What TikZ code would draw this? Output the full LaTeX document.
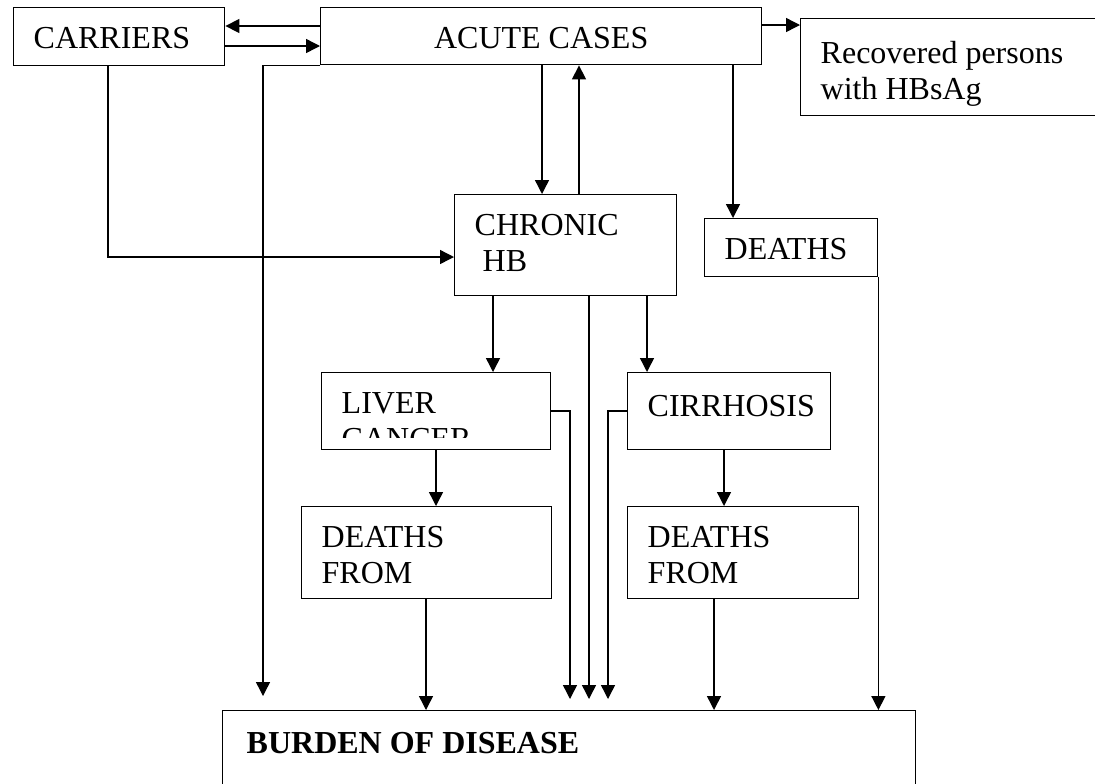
\documentclass[tikz,border=0pt]{standalone}
\usepackage{fontspec}
\setmainfont{Liberation Serif}
\usetikzlibrary{arrows.meta}

\newlength\px
\setlength\px{0.5pt}
% box of given size (px) with its text set from the top left
\newcommand\inbox[4][7.6pt]{\parbox[c][#3\px][t]{#2\px}{\vspace*{#1}\leftskip=10pt\strut#4\par}}

\begin{document}
\begin{tikzpicture}[x=0.5pt,y=-0.5pt,line width=0.7pt,
  font=\fontsize{16}{18}\selectfont,
  box/.style={draw,anchor=north west,inner sep=0pt},
  arr/.style={-{Triangle[length=7pt,width=7pt]}}]
\useasboundingbox (0,0) rectangle (1095,783);

\node[box] (carriers) at (13,7) {\inbox{211}{58}{CARRIERS}};
\node[box] (acute) at (320,7) {\inbox{441}{57}{\centering ACUTE CASES}};
\node[box] (recovered) at (800,18) {\inbox[9.9pt]{320}{97}{Recovered persons\\with HBsAg}};
\node[box] (chronic) at (454,194) {\inbox{222}{101}{CHRONIC\\\hspace*{.25em}HB}};
\node[box] (deaths) at (704,218) {\inbox{173}{58}{DEATHS}};
\node[box] (liver) at (321,372) {\inbox{229}{77}{}};
\begin{scope}
\clip (321,372) rectangle (550,437);
\node[anchor=north west,inner sep=0pt] (livertext) at (liver.north west) {\inbox{229}{77}{LIVER\\CANCER}};
\end{scope}
\node[box] (cirrhosis) at (627,372) {\inbox[9.1pt]{203}{77}{CIRRHOSIS}};
\node[box] (dfl) at (301,506) {\inbox{250}{92}{DEATHS\\FROM}};
\node[box] (dfc) at (627,506) {\inbox{231}{92}{DEATHS\\FROM}};
\node[box] (burden) at (222,710) {\inbox[8.6pt]{693}{100}{\hspace*{2pt}\bfseries BURDEN OF DISEASE}};

% free ends above the burden box
\coordinate (acutedrop) at (263,696);
\coordinate (liverdrop) at (570,699);
\coordinate (chronicdrop) at (589,699);
\coordinate (cirrdrop) at (608,699);

\draw[arr] (acute.west |- 0,26) -- (carriers.east |- 0,26);
\draw[arr] (carriers.east |- 0,46) -- (acute.west |- 0,46);
\draw[arr] (acute.east |- 0,25) -- (recovered.west |- 0,25);
\draw[arr] (acute.south west) -| (acutedrop);
\draw[arr] (542,0 |- acute.south) -- (542,0 |- chronic.north);
\draw[arr] (579,0 |- chronic.north) -- (579,0 |- acute.south);
\draw[arr] (733,0 |- acute.south) -- (733,0 |- deaths.north);
\draw[arr] (108,0 |- carriers.south) |- (chronic.west |- 0,257);

\draw[arr] (493,0 |- chronic.south) -- (493,0 |- liver.north);
\draw[arr] (647,0 |- chronic.south) -- (647,0 |- cirrhosis.north);
\draw[arr] (589,0 |- chronic.south) -- (chronicdrop);
\draw[arr] (liver.east |- 0,411) -| (liverdrop);
\draw[arr] (cirrhosis.west |- 0,411) -| (cirrdrop);

\draw[arr] (436,0 |- liver.south) -- (436,0 |- dfl.north);
\draw[arr] (724,0 |- cirrhosis.south) -- (724,0 |- dfc.north);
\draw[arr] (426,0 |- dfl.south) -- (426,0 |- burden.north);
\draw[arr] (714,0 |- dfc.south) -- (714,0 |- burden.north);
\draw[arr] (deaths.south east) -- (deaths.south east |- burden.north);

\end{tikzpicture}
\end{document}
